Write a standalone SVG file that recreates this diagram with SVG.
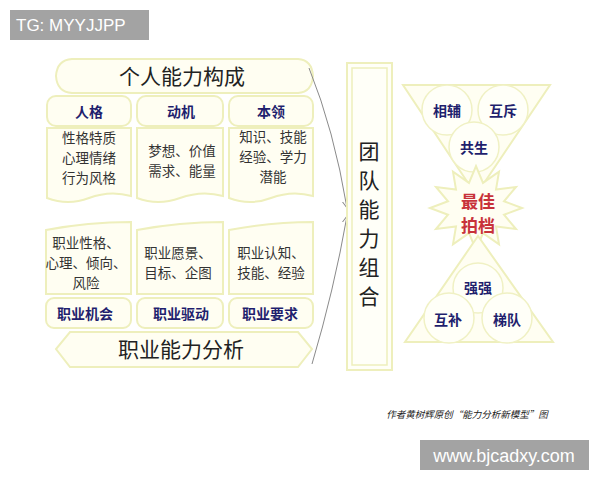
<svg xmlns="http://www.w3.org/2000/svg" width="600" height="480" viewBox="0 0 600 480">
<defs>
<style>
.shape{fill:#fffef2;stroke:#eeefbc;stroke-width:2}
.circ{fill:#fffff8;stroke:#f0f1c4;stroke-width:1.5}
.t{font-family:"Noto Sans CJK SC","Noto Sans",sans-serif;text-anchor:middle;fill:#222}
.big{font-size:21px}
.hd{font-size:14px;font-weight:bold;fill:#1f1f6e}
.body{font-size:13.5px;fill:#333}
.red{font-size:17px;font-weight:bold;fill:#c8323a}
.conn{fill:none;stroke:#8a8a8a;stroke-width:1}
.wm{font-family:"Liberation Sans",Arial,sans-serif;fill:#fff}
</style>
<marker id="ah" markerWidth="8" markerHeight="8" refX="7" refY="4" orient="auto" markerUnits="userSpaceOnUse">
<path d="M0,0.5 L7,4 L0,7.5" fill="none" stroke="#8a8a8a" stroke-width="1"/>
</marker>
</defs>
<rect width="600" height="480" fill="#ffffff"/>

<g id="wm-top"><rect x="10" y="10" width="139" height="30" fill="#a3a3a3"/><text class="wm" x="16" y="31" font-size="17">TG: MYYJJPP</text></g>

<g id="banner-top"><path class="shape" d="M72,59 L298,59 Q312,60 313,76 Q312,92 298,93 L72,93 Q57,92 56,76 Q57,60 72,59 Z"/><text class="t big" x="182" y="84">个人能力构成</text></g>

<g id="h-renge"><rect class="shape" x="47" y="96" width="84" height="30" rx="9"/><text class="t hd" x="89" y="117">人格</text></g>
<g id="h-dongji"><rect class="shape" x="137" y="96" width="86" height="30" rx="9"/><text class="t hd" x="181" y="117">动机</text></g>
<g id="h-benling"><rect class="shape" x="229" y="96" width="84" height="30" rx="9"/><text class="t hd" x="271" y="117">本领</text></g>

<g id="c-renge"><path class="shape" d="M47,128 L131,128 L131,196 Q110,190 89,198 Q68,206 47,198 Z"/>
<text class="t body"><tspan x="89" y="143">性格特质</tspan><tspan x="89" y="163">心理情绪</tspan><tspan x="89" y="183">行为风格</tspan></text></g>
<g id="c-dongji"><path class="shape" d="M137,128 L223,128 L223,196 Q202,190 180,198 Q158,206 137,198 Z"/>
<text class="t body"><tspan x="182" y="156">梦想、价值</tspan><tspan x="182" y="176">需求、能量</tspan></text></g>
<g id="c-benling"><path class="shape" d="M229,128 L313,128 L313,196 Q292,190 271,198 Q250,206 229,198 Z"/>
<text class="t body"><tspan x="273" y="142">知识、技能</tspan><tspan x="273" y="162">经验、学力</tspan><tspan x="273" y="182">潜能</tspan></text></g>

<g id="c-jihui"><path class="shape" d="M46,230 Q88,222 131,222 L131,294 L46,294 Z"/>
<text class="t body"><tspan x="86" y="248">职业性格、</tspan><tspan x="86" y="268">心理、倾向、</tspan><tspan x="86" y="288">风险</tspan></text></g>
<g id="c-qudong"><path class="shape" d="M137,230 Q180,222 223,222 L223,294 L137,294 Z"/>
<text class="t body"><tspan x="178" y="258">职业愿景、</tspan><tspan x="178" y="278">目标、企图</tspan></text></g>
<g id="c-yaoqiu"><path class="shape" d="M229,230 Q271,222 313,222 L313,294 L229,294 Z"/>
<text class="t body"><tspan x="271" y="258">职业认知、</tspan><tspan x="271" y="278">技能、经验</tspan></text></g>

<g id="f-jihui"><rect class="shape" x="46" y="298" width="85" height="30" rx="8"/><text class="t hd" x="85" y="319">职业机会</text></g>
<g id="f-qudong"><rect class="shape" x="137" y="298" width="86" height="30" rx="8"/><text class="t hd" x="181" y="319">职业驱动</text></g>
<g id="f-yaoqiu"><rect class="shape" x="229" y="298" width="84" height="30" rx="8"/><text class="t hd" x="270" y="319">职业要求</text></g>

<g id="banner-bottom"><path class="shape" d="M70,332 L298,332 L312,349 L298,367 L70,367 L56,349 Z"/><text class="t big" x="181" y="357">职业能力分析</text></g>

<g id="connectors">
<path class="conn" d="M309,68 Q334,130 347,208" marker-end="url(#ah)"/>
<path class="conn" d="M312,364 Q334,290 347,216" marker-end="url(#ah)"/>
</g>

<g id="team"><rect x="347" y="63" width="45" height="307" fill="#fffff8" stroke="#eeefbc" stroke-width="2"/><rect x="352" y="68" width="35" height="297" fill="none" stroke="#eeefbc" stroke-width="1.5"/>
<text class="t" font-size="21" fill="#222" x="369" y="159">团</text>
<text class="t" font-size="21" fill="#222" x="369" y="188">队</text>
<text class="t" font-size="21" fill="#222" x="369" y="217">能</text>
<text class="t" font-size="21" fill="#222" x="369" y="246">力</text>
<text class="t" font-size="21" fill="#222" x="369" y="275">组</text>
<text class="t" font-size="21" fill="#222" x="369" y="304">合</text></g>

<g id="top-triangle"><polygon class="shape" points="403,85 550,85 476,195"/>
<circle class="circ" cx="447" cy="110" r="25"/><circle class="circ" cx="503" cy="110" r="25"/><circle class="circ" cx="474" cy="147" r="25"/>
<text class="t hd" font-size="15"><tspan x="447" y="116">相辅</tspan><tspan x="503" y="116">互斥</tspan><tspan x="474" y="153">共生</tspan></text></g>

<g id="best"><polygon class="shape" points="522,208 504,214.7 516,229 496,226.4 499,244.4 483,233.1 476,250 469,233.1 453,244.4 456,226.4 436,229 448,214.7 430,208 448,201.3 436,187 456,189.6 453,171.6 469,182.9 476,166 483,182.9 499,171.6 496,189.6 516,187 504,201.3"/>
<text class="t red"><tspan x="478" y="208">最佳</tspan><tspan x="478" y="232">拍档</tspan></text></g>

<g id="bottom-triangle"><polygon class="shape" points="478,236 405,342 553,342"/>
<circle class="circ" cx="478" cy="288" r="25"/><circle class="circ" cx="449" cy="318" r="25"/><circle class="circ" cx="507" cy="318" r="25"/>
<text class="t hd" font-size="15"><tspan x="478" y="293">强强</tspan><tspan x="448" y="325">互补</tspan><tspan x="507" y="325">梯队</tspan></text></g>

<g id="caption"><text class="t" x="467" y="418" font-size="9.5" font-style="italic" fill="#999">作者黄树辉原创“能力分析新模型”图</text></g>

<g id="wm-bottom"><rect x="420" y="440" width="169" height="30" fill="#a3a3a3"/><text class="wm" x="504" y="462" font-size="18" text-anchor="middle">www.bjcadxy.com</text></g>
</svg>
